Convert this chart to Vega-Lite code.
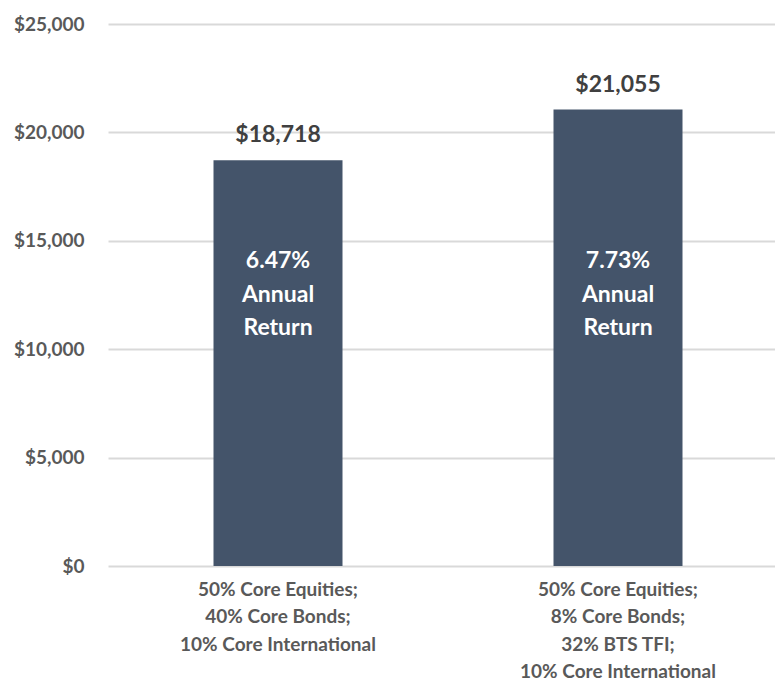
{
  "$schema": "https://vega.github.io/schema/vega-lite/v6.json",
  "autosize": "none",
  "width": 680,
  "height": 542,
  "padding": {"left": 108, "top": 24, "right": 0, "bottom": 115},
  "background": "white",
  "config": {
    "view": {"stroke": null},
    "font": "Lato"
  },
  "data": {
    "values": [
      {"portfolio": "50% Core Equities;\n40% Core Bonds;\n10% Core International", "value": 18718, "note": "6.47%\nAnnual\nReturn"},
      {"portfolio": "50% Core Equities;\n8% Core Bonds;\n32% BTS TFI;\n10% Core International", "value": 21055, "note": "7.73%\nAnnual\nReturn"}
    ]
  },
  "encoding": {
    "x": {
      "field": "portfolio",
      "type": "nominal",
      "sort": null,
      "scale": {"paddingInner": 0, "paddingOuter": 0},
      "axis": {
        "title": null,
        "labelAngle": 0,
        "ticks": false,
        "domain": false,
        "labelExpr": "split(datum.label, '\\n')",
        "labelFont": "Lato",
        "labelFontSize": 19,
        "labelFontWeight": "bold",
        "labelColor": "#595959",
        "labelLineHeight": 27.5,
        "labelPadding": 14,
        "labelLimit": 400
      }
    }
  },
  "layer": [
    {
      "mark": {"type": "bar", "color": "#44546a", "size": 129},
      "encoding": {
        "y": {
          "field": "value",
          "type": "quantitative",
          "scale": {"domain": [0, 25000], "nice": false},
          "axis": {
            "title": null,
            "values": [0, 5000, 10000, 15000, 20000, 25000],
            "format": "$,.0f",
            "ticks": false,
            "domain": false,
            "gridColor": "#d9d9d9",
            "gridWidth": 2,
            "labelFont": "Lato",
            "labelFontSize": 19,
            "labelFontWeight": "bold",
            "labelColor": "#595959",
            "labelPadding": 24
          }
        }
      }
    },
    {
      "mark": {"type": "text", "font": "Lato", "fontSize": 23, "fontWeight": "bold", "color": "#404040", "baseline": "middle", "dy": -25},
      "encoding": {
        "y": {"field": "value", "type": "quantitative"},
        "text": {"field": "value", "type": "quantitative", "format": "$,.0f"}
      }
    },
    {
      "mark": {"type": "text", "font": "Lato", "fontSize": 23, "fontWeight": "bold", "color": "white", "baseline": "middle", "lineBreak": "\n", "lineHeight": 33.5, "dy": -305},
      "encoding": {
        "y": {"datum": 0, "type": "quantitative"},
        "text": {"field": "note", "type": "nominal"}
      }
    }
  ]
}
